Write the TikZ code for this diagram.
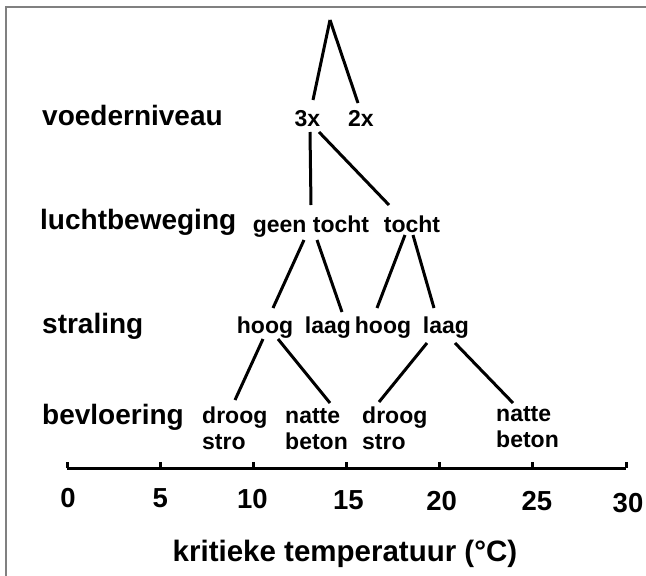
\documentclass[tikz,border=0pt]{standalone}
\usepackage{fontspec}
\setmainfont{Liberation Sans}
\usetikzlibrary{calc}
\newcommand{\twoline}[2]{\begin{tabular}[t]{@{}l@{}}#1\\#2\end{tabular}}
\begin{document}
\begin{tikzpicture}[x=1pt,y=1pt,
  cat/.style={font=\fontsize{28}{32}\selectfont\bfseries, inner sep=0pt, anchor=base west},
  br/.style={font=\fontsize{23}{26}\selectfont\bfseries, inner sep=0pt, anchor=base},
  fl/.style={font=\fontsize{23}{26}\selectfont\bfseries, inner sep=0pt, anchor=base west},
  num/.style={font=\fontsize{27.5}{30}\selectfont\bfseries, inner sep=0pt, anchor=base},
  ttl/.style={font=\fontsize{29.5}{32}\selectfont\bfseries, inner sep=0pt, anchor=base},
  edge/.style={line width=3pt},
  axisline/.style={line width=3pt},
  frame/.style={draw=black!50, line width=2pt}]
\useasboundingbox (0,0) rectangle (646,-576);
\draw[frame] (6,-576) -- (6,-7) -- (646,-7);

% category labels
\node[cat] (cvoer) at (42,-125) {voederniveau};
\node[cat] (clucht) at (40,-229) {luchtbeweging};
\node[cat] (cstral) at (42,-333) {straling};
\node[cat] (cbevl) at (42,-424) {bevloering};

% tree nodes
\coordinate (apex) at (330,-20);
\node[br] (n3x) at (307.5,-126) {3x};
\node[br] (n2x) at (361,-126) {2x};
\node[br] (gt) at (311,-232) {geen tocht};
\node[br] (t) at (412,-232) {tocht};
\node[br] (h1) at (265,-333) {hoog};
\node[br] (l1) at (328,-333) {laag};
\node[br] (h2) at (383,-333) {hoog};
\node[br] (l2) at (446,-333) {laag};
\node[fl] (ds1) at (202,-423) {\twoline{droog}{stro}};
\node[fl] (nb1) at (285,-423) {\twoline{natte}{beton}};
\node[fl] (ds2) at (362,-423) {\twoline{droog}{stro}};
\node[fl] (nb2) at (496,-421) {\twoline{natte}{beton}};

% connectors
\draw[edge] (apex) -- ($(n3x.base)+(5.5,26)$);
\draw[edge] (apex) -- ($(n2x.base)+(-3,23)$);
\draw[edge] ($(n3x.base)+(2.5,-6)$) -- ($(gt.base)+(0,27)$);
\draw[edge] ($(n3x.base)+(11.5,-6)$) -- ($(t.base)+(-23,27)$);
\draw[edge] ($(gt.base)+(-7,-8)$) -- ($(h1.base)+(8,25)$);
\draw[edge] ($(gt.base)+(6,-8)$) -- ($(l1.base)+(14,21)$);
\draw[edge] ($(t.base)+(-7,-3)$) -- ($(h2.base)+(-6,25)$);
\draw[edge] ($(t.base)+(1,-3)$) -- ($(l2.base)+(-12,25)$);
\draw[edge] ($(h1.base)+(-2,-6)$) -- ($(ds1.base west)+(33,23)$);
\draw[edge] ($(h1.base)+(13,-6)$) -- ($(nb1.base west)+(45,20)$);
\draw[edge] ($(l2.base)+(-19,-10)$) -- ($(ds2.base west)+(17,21)$);
\draw[edge] ($(l2.base)+(9,-10)$) -- ($(nb2.base west)+(17,18)$);

% axis
\coordinate (a0) at (67,-468);
\coordinate (a30) at (626,-468);
\draw[axisline] (a0) -- (a30);
\foreach \i in {0,...,6} {
  \coordinate (tk\i) at ($(a0)!\i/6!(a30)$);
  \draw[axisline] (tk\i) -- ++(0,6);
}
\node[num] (v0) at ($(tk0)+(1,-39)$) {0};
\node[num] (v5) at ($(tk1)+(0,-39)$) {5};
\node[num] (v10) at ($(tk2)+(-1,-40)$) {10};
\node[num] (v15) at ($(tk3)+(2,-41)$) {15};
\node[num] (v20) at ($(tk4)+(2,-42)$) {20};
\node[num] (v25) at ($(tk5)+(4,-42)$) {25};
\node[num] (v30) at ($(tk6)+(2,-44)$) {30};

\node[ttl] (title) at (345,-561) {kritieke temperatuur (°C)};
\end{tikzpicture}
\end{document}
